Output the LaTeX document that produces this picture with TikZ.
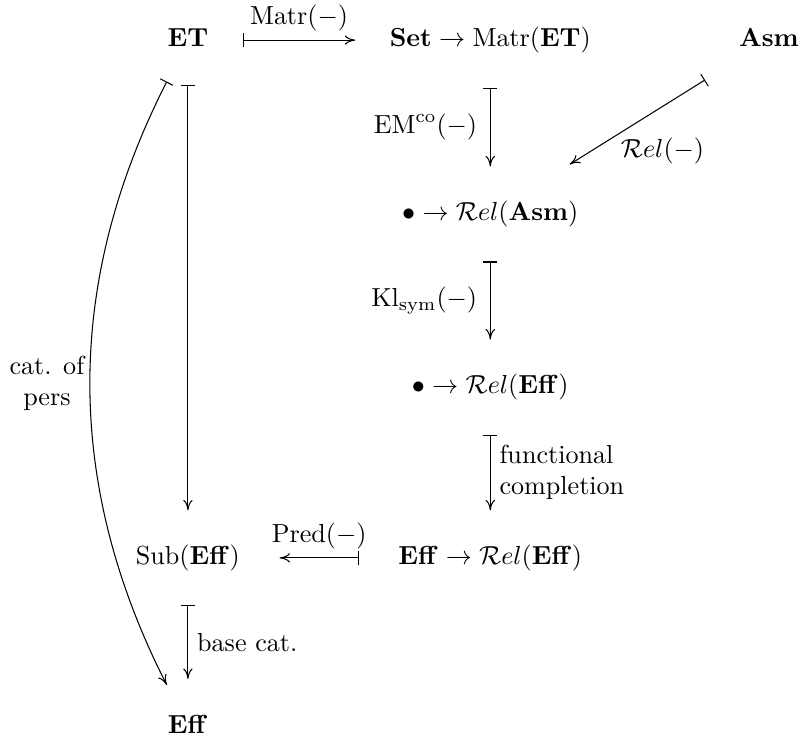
\documentclass[tikz,border=0pt]{standalone}
\usepackage{amsmath,amssymb}
\usetikzlibrary{arrows.meta}

\begin{document}
\begin{tikzpicture}[
    obj/.style={inner sep=0pt, text height=7.5pt, text depth=2.5pt},
    mto/.style={{Bar[width=5.4pt]}-{Computer Modern Rightarrow[length=4pt, width=3.6pt]}, shorten <=13pt, shorten >=13pt}
]
\useasboundingbox (0,0) rectangle (10.81,-9.99);

% objects
\node[obj] (et) at (2.53,-0.54) {$\mathbf{ET}$};
\node[obj] (setm) at (6.60,-0.54) {$\mathbf{Set}\to\mathrm{Matr}(\mathbf{ET})$};
\node[obj] (asm) at (10.35,-0.54) {$\mathbf{Asm}$};
\node[obj] (relasm) at (6.60,-2.88) {$\bullet\to\mathcal{R}el(\mathbf{Asm})$};
\node[obj] (releff) at (6.60,-5.21) {$\bullet\to\mathcal{R}el(\mathbf{Eff})$};
\node[obj] (effrel) at (6.60,-7.51) {$\mathbf{Eff}\to\mathcal{R}el(\mathbf{Eff})$};
\node[obj] (sub) at (2.53,-7.51) {$\mathrm{Sub}(\mathbf{Eff})$};
\node[obj] (eff) at (2.53,-9.78) {$\mathbf{Eff}$};

% maps
\draw[mto] (et) -- node[above] {$\mathrm{Matr}(-)$} (setm);
\draw[mto] (setm) -- node[left=1.5pt] {$\mathrm{EM}^{\mathrm{co}}(-)$} (relasm);
\draw[mto, shorten <=19pt, shorten >=26pt] (asm) -- node[pos=0.55, below right, inner sep=1pt] {$\mathcal{R}el(-)$} (relasm);
\draw[mto] (relasm) -- node[left=1.5pt] {$\mathrm{Kl}_{\mathrm{sym}}(-)$} (releff);
\draw[mto] (releff) -- node[right, align=left] {functional\\completion} (effrel);
\draw[mto, shorten <=15pt, shorten >=15pt] (effrel) -- node[above] {$\mathrm{Pred}(-)$} (sub);
\draw[mto, shorten <=12pt] (et) -- (sub);
\draw[mto] (sub) -- node[right] {base cat.} (eff);
\draw[mto, shorten <=12pt, shorten >=12pt] (et) to[bend right=27] node[midway, left, align=center] {cat. of\\pers} (eff);
\end{tikzpicture}
\end{document}
